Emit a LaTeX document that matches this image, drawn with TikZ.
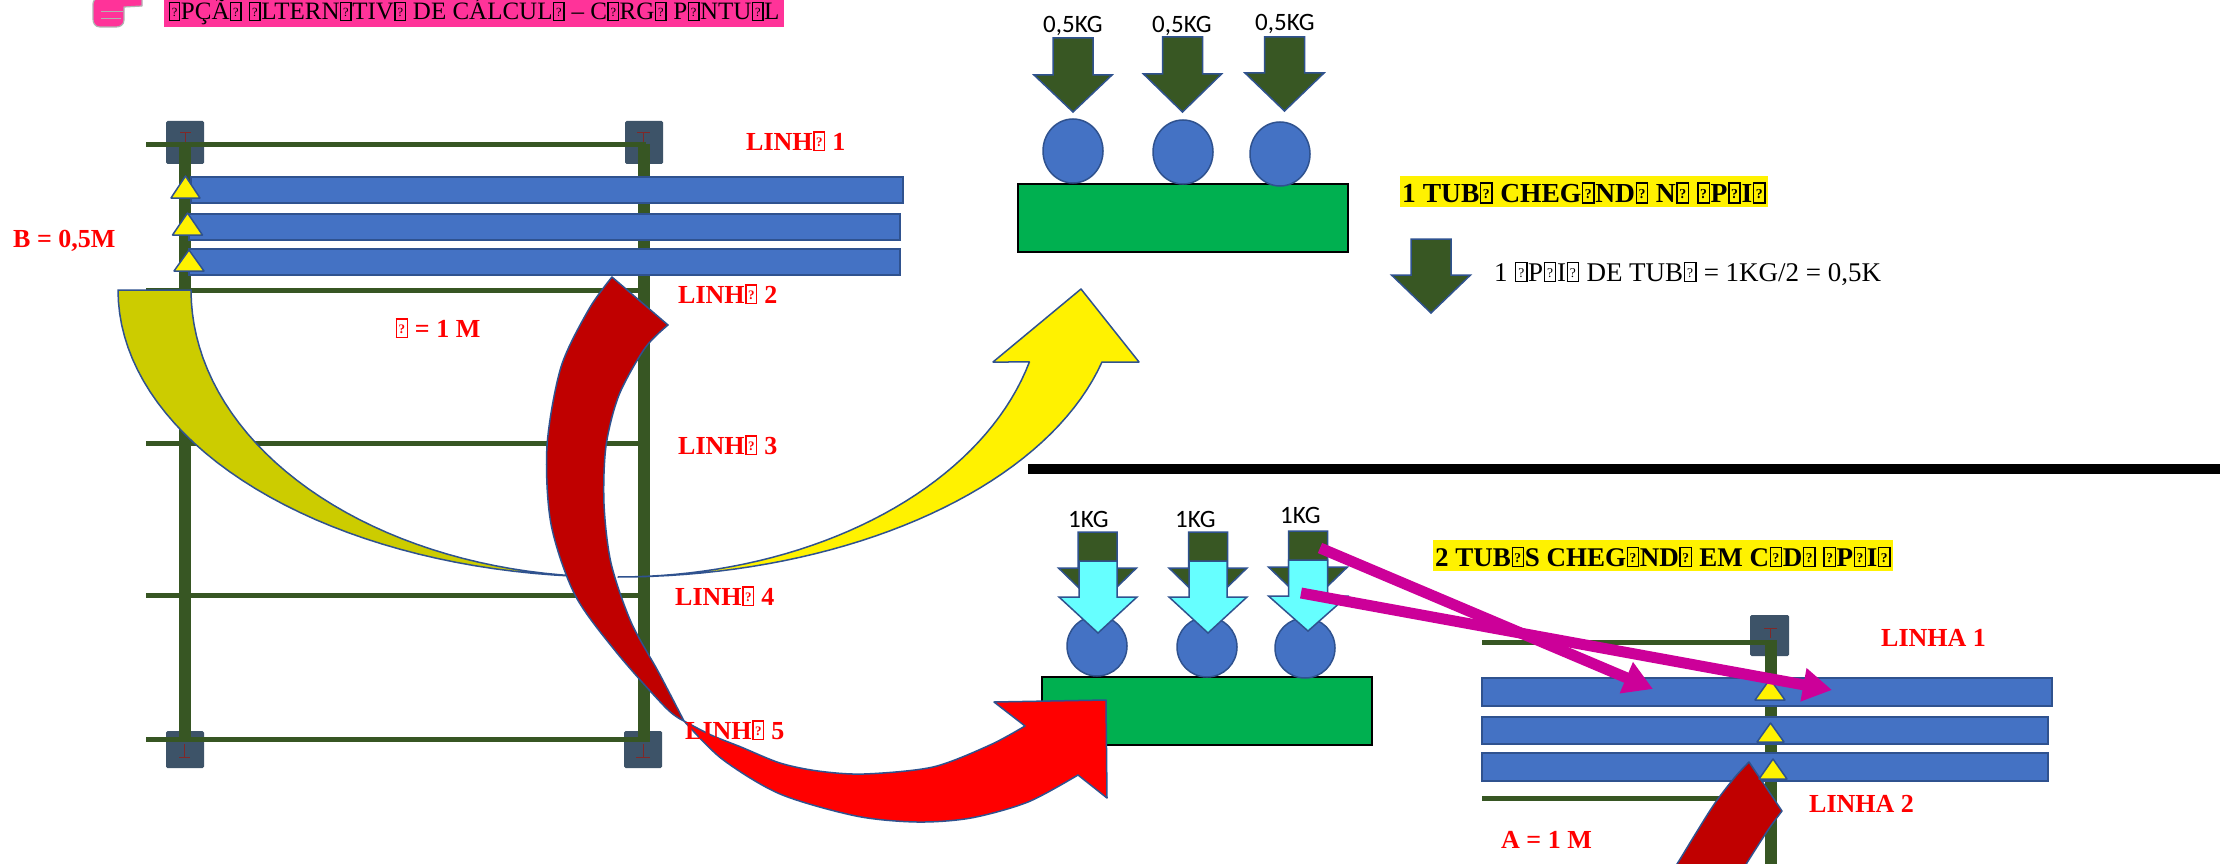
\documentclass[tikz,border=0pt]{standalone}
\usepackage{fontspec}
\usepackage{graphicx}
\setmainfont{Liberation Serif}
\newfontfamily\calfont{Carlito}
\usetikzlibrary{arrows.meta}

\definecolor{hlpink}{RGB}{255,51,153}
\definecolor{barblue}{RGB}{68,114,196}
\definecolor{outl}{RGB}{47,82,143}
\definecolor{beamgreen}{RGB}{55,86,35}
\definecolor{padslate}{RGB}{61,83,104}
\definecolor{tcol}{RGB}{128,40,40}
\definecolor{boxgreen}{RGB}{0,176,80}
\definecolor{darkload}{RGB}{56,87,35}
\definecolor{cyanload}{RGB}{102,255,255}
\definecolor{yelDark}{RGB}{204,204,0}
\definecolor{redDark}{RGB}{192,0,0}
\definecolor{magarrowcol}{RGB}{204,0,153}
\definecolor{labelred}{RGB}{255,0,0}

% missing-glyph box, as printed in the labels
\newcommand\tofu{{\setlength\fboxsep{0pt}\setlength\fboxrule{0.055em}\kern0.02em\fbox{\makebox[0.36em]{\rule{0pt}{0.66em}\raisebox{0.12em}{\scalebox{0.5}{?}}}}\kern0.02em}}

% downward block arrow: style, centre x, shaft half width, head half width, top y, head base y, tip y
\newcommand\blockdn[7]{\path[#1] ({#2-#3},#5) -- ({#2+#3},#5) -- ({#2+#3},#6) -- ({#2+#4},#6) -- (#2,#7) -- ({#2-#4},#6) -- ({#2-#3},#6) -- cycle;}

\begin{document}
\begin{tikzpicture}[x=1pt,y=-1pt,
  fr-beam/.style={draw=beamgreen, line width=5pt},
  fr-post/.style={draw=beamgreen, line width=12pt},
  fr-pad/.style={fill=padslate, rounded corners=1.5pt},
  fr-tmark/.style={draw=tcol, line width=1pt},
  tubebar/.style={fill=barblue, draw=outl, line width=1.5pt},
  support/.style={fill=yellow, draw=outl, line width=1.5pt, line join=round},
  tube/.style={fill=barblue, draw=outl, line width=1.5pt},
  seat/.style={fill=boxgreen, draw=black, line width=2.5pt},
  loaddark/.style={fill=darkload, draw=outl, line width=1.5pt, line join=miter},
  loadcyan/.style={fill=cyanload, draw=outl, line width=1.5pt, line join=miter},
  curvedge/.style={draw=outl, line width=1.5pt, line join=round},
  linelbl/.style={text=labelred, font=\bfseries\fontsize{26}{26}\selectfont, inner sep=0pt, anchor=base west},
  kglbl/.style={font=\calfont\fontsize{25}{25}\selectfont, inner sep=0pt, anchor=base west},
  hlbox/.style={fill=yellow, inner xsep=2pt, inner ysep=0pt, text height=26pt, text depth=5pt, anchor=base west, font=\bfseries\fontsize{27.5}{27.5}\selectfont},
  magarrow/.style={draw=magarrowcol, line width=11pt, -{Triangle[length=29pt,width=32pt]}}
]
\useasboundingbox (0,0) rectangle (2220,864);
\clip (0,0) rectangle (2220,864);
\fill[white] (0,0) rectangle (2220,864);

% ---------- left frame ----------
\path[fr-pad] (166,121) rectangle (204,164);
\path[fr-pad] (625,121) rectangle (663,164);
\path[fr-pad] (166,731) rectangle (204,768);
\path[fr-pad] (624,731) rectangle (662,768);
\draw[fr-tmark] (180,133) -- (191,133) (185.5,133) -- (185.5,144);
\draw[fr-tmark] (637,133) -- (650,133) (643.5,133) -- (643.5,144);
\draw[fr-tmark] (184.5,744) -- (184.5,757) (179,757) -- (190,757);
\draw[fr-tmark] (643,744) -- (643,757) (636,757) -- (650,757);
\foreach \yy in {145,290,443,595,739} \draw[fr-beam] (146,\yy) -- (646,\yy);
\draw[fr-post] (185,144) -- (185,742);
\draw[fr-post] (643.5,144) -- (643.5,742);

\path[tubebar] (191,177) rectangle (903,203);
\path[tubebar] (189,214) rectangle (900,240);
\path[tubebar] (189,249) rectangle (900,275);
\path[support] (171,198) -- (185.5,176) -- (200,198) -- cycle;
\path[support] (172.5,235) -- (187.5,213) -- (202.5,235) -- cycle;
\path[support] (174,271) -- (189,250) -- (204,271) -- cycle;

% ---------- one tube per support ----------
\path[seat] (1018,184) rectangle (1348,252);
\path[tube] (1073,151) ellipse [x radius=30pt, y radius=32pt];
\path[tube] (1183,152) ellipse [x radius=30pt, y radius=32pt];
\path[tube] (1280,154) ellipse [x radius=30pt, y radius=32pt];
\blockdn{loaddark}{1073}{20}{39}{38}{75}{112}
\blockdn{loaddark}{1182.5}{20}{39}{37}{74}{112}
\blockdn{loaddark}{1284.5}{20}{39.5}{37}{73}{111}
\blockdn{loaddark}{1431}{20}{39.5}{239}{275}{313}

% divider
\draw[line width=10pt] (1028,469) -- (2230,469);

% ---------- two tubes per support ----------
\path[seat] (1042,677) rectangle (1372,745);
\blockdn{loaddark}{1097.5}{19.5}{39}{532}{568}{606}
\blockdn{loaddark}{1208}{19.5}{39}{532}{568}{606}
\blockdn{loaddark}{1308}{19.5}{39.5}{531}{567}{605}
\path[tube] (1097,646) ellipse [x radius=30pt, y radius=30pt];
\path[tube] (1207,647) ellipse [x radius=30pt, y radius=30pt];
\path[tube] (1305,648) ellipse [x radius=30pt, y radius=30pt];
\blockdn{loadcyan}{1098}{19}{39}{561}{597}{633}
\blockdn{loadcyan}{1208}{19}{39}{561}{597}{633}
\blockdn{loadcyan}{1308}{19.5}{39.5}{560}{596}{631}

% ---------- lower right frame ----------
\path[fr-pad] (1750,615) rectangle (1789,656);
\draw[fr-tmark] (1764,628) -- (1777,628) (1770.5,628) -- (1770.5,638);
\draw[fr-beam] (1482,642) -- (1773,642);
\draw[fr-beam] (1482,798) -- (1770,798);
\draw[fr-post] (1770.5,640) -- (1770.5,870);
\path[tubebar] (1482,678) rectangle (2052,706);
\path[tubebar] (1482,717) rectangle (2048,744);
\path[tubebar] (1482,753) rectangle (2048,781);

% ---------- yellow curved arrow ----------
\path[fill=yelDark, curvedge]
  plot[domain=180:90, samples=40] ({612+494*cos(\x)},{290+287*sin(\x)})
  -- plot[domain=90:180, samples=40] ({612+421*cos(\x)},{290+287*sin(\x)}) -- cycle;
\path[fill=yellow, curvedge]
  plot[domain=90:14.53, samples=40] ({618+500*cos(\x)},{290+287*sin(\x)})
  -- (1139,362) -- (1081,289) -- (993,362)
  -- plot[domain=14.53:90, samples=40] ({618+425*cos(\x)},{290+287*sin(\x)}) -- cycle;

% ---------- red curved arrow ----------
\path[fill=redDark, curvedge]
  (612,277) -- (668,325)
  -- plot[smooth] coordinates {(668,325) (645,348) (619,395) (606,446) (604,504) (611,563) (631,622) (659,673) (684,721)}
  -- plot[smooth] coordinates {(684,721) (666,708) (617,653) (575,595) (551,524) (547,446) (561,367) (589,309) (612,277)}
  -- cycle;
\path[fill=red, curvedge]
  plot[smooth] coordinates {(684,721) (722,759) (780,794) (856,816) (917,822) (971,818) (1028,802) (1078,775)}
  -- (1107,798) -- (1106,700) -- (994,702) -- (1025,726)
  -- plot[smooth] coordinates {(1025,726) (990,745) (933,767) (864,774) (818,771) (780,763) (741,747) (711,735) (684,721)}
  -- cycle;

% red arrow entering the lower right frame
\path[fill=redDark, curvedge]
  (1749,762) -- (1782,811)
  -- plot[smooth] coordinates {(1782,811) (1768,830) (1745,866) (1740,876)}
  -- (1668,876)
  -- plot[smooth] coordinates {(1668,876) (1677,864) (1696,833) (1715,803) (1735,777) (1749,762)}
  -- cycle;
\path[support] (1755,700) -- (1770,679) -- (1785,700) -- cycle;
\path[support] (1757,742) -- (1770.5,723) -- (1784,742) -- cycle;
\path[support] (1759,779) -- (1773,759) -- (1787,779) -- cycle;

% ---------- magenta arrows ----------
\coordinate (magAstart) at (1320,548);
\coordinate (magAend) at (1653,689);
\coordinate (magBstart) at (1301,593);
\coordinate (magBend) at (1832,690);
\draw[magarrow] (magAstart) -- (magAend);
\draw[magarrow] (magBstart) -- (magBend);

% ---------- hand and title ----------
\path[fill=hlpink, draw=gray!60, line width=1.2pt, line join=round]
  (142,-2) -- (142,6) -- (124,7) -- (124,20) .. controls (124,25) and (120,27) .. (116,27)
  -- (100,27) .. controls (95,27) and (93,23) .. (93,19) -- (93,4) .. controls (93,0) and (96,-2) .. (100,-2) -- cycle;
\draw[gray!60, line width=1pt] (101,12) -- (123,12) (101,19) -- (121,19);
\node[anchor=base west, fill=hlpink, inner xsep=4pt, inner ysep=0pt, text height=20pt, text depth=7pt, font=\fontsize{25}{25}\selectfont] (title) at (164,20)
  {\tofu{}PÇÃ\tofu{} \tofu{}LTERN\tofu{}TIV\tofu{} DE CÁLCUL\tofu{} – C\tofu{}RG\tofu{} P\tofu{}NTU\tofu{}L};

% ---------- labels ----------
\node[linelbl] (lin1) at (746,150) {LINH\tofu{} 1};
\node[linelbl] (lin2) at (678,303) {LINH\tofu{} 2};
\node[linelbl] (lin3) at (678,454) {LINH\tofu{} 3};
\node[linelbl] (lin4) at (675,605) {LINH\tofu{} 4};
\node[linelbl] (lin5) at (685,739) {LINH\tofu{} 5};
\node[linelbl] (bdim) at (13,247) {B = 0,5M};
\node[linelbl] (adim) at (395,337) {\tofu{} = 1 M};

\node[kglbl] (kg1) at (1043,33) {0,5KG};
\node[kglbl] (kg2) at (1152,33) {0,5KG};
\node[kglbl] (kg3) at (1255,31) {0,5KG};
\node[hlbox] (onetube) at (1400,202) {1 TUB\tofu{} CHEG\tofu{}ND\tofu{} N\tofu{} \tofu{}P\tofu{}I\tofu{}};
\node[anchor=base west, inner sep=0pt, font=\fontsize{27}{27}\selectfont] (perapoio) at (1494,281)
  {1 \tofu{}P\tofu{}I\tofu{} DE TUB\tofu{} = 1KG/2 = 0,5K};

\node[kglbl] (kg4) at (1068,527) {1KG};
\node[kglbl] (kg5) at (1175,527) {1KG};
\node[kglbl] (kg6) at (1280,523) {1KG};
\node[hlbox, font=\bfseries\fontsize{27}{27}\selectfont] (twotube) at (1433,566) {2 TUB\tofu{}S CHEG\tofu{}ND\tofu{} EM C\tofu{}D\tofu{} \tofu{}P\tofu{}I\tofu{}};

\node[linelbl] (linA1) at (1881,646) {LINHA 1};
\node[linelbl] (linA2) at (1809,812) {LINHA 2};
\node[linelbl] (adimB) at (1501,848) {A = 1 M};
\end{tikzpicture}
\end{document}
